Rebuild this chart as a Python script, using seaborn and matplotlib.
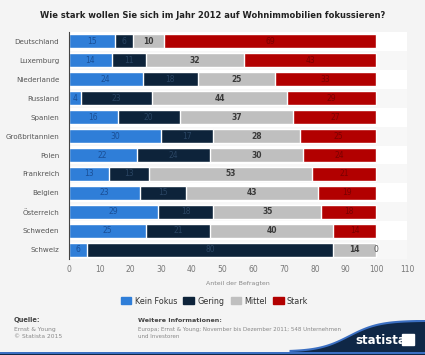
# -*- coding: utf-8 -*-
"""
Stacked barchart: focus on residential property 2012
"""

# import libraries
import seaborn as sns
import matplotlib.pyplot as plt
import matplotlib.patches as mpatches
import numpy as np
import pandas as pd

# data
countries = ['Deutschland', 'Luxemburg', 'Niederlande', 'Russland', 'Spanien',
             'Großbritannien', 'Polen', 'Frankreich', 'Belgien', 'Österreich',
             'Schweden', 'Schweiz']
kein_fokus = [15, 14, 24, 4, 16, 30, 22, 13, 23, 29, 25, 6]
gering = [6, 11, 18, 23, 20, 17, 24, 13, 15, 18, 21, 80]
mittel = [10, 32, 25, 44, 37, 28, 30, 53, 43, 35, 40, 14]
stark = [69, 43, 33, 29, 27, 25, 24, 21, 19, 18, 14, 0]
series = ['Kein Fokus', 'Gering', 'Mittel', 'Stark']
colors = ['#2f7ed8', '#0d233a', '#bfbfbf', '#b20000']
label_colors = ['#1a4f96', '#2a4563', '#3a3a3a', '#7a0000']

# set theme
sns.set_theme(style="white")
plt.rcParams['font.family'] = ['DejaVu Sans']

df = pd.DataFrame({'Land': countries, 'Kein Fokus': kein_fokus,
                   'Gering': gering, 'Mittel': mittel, 'Stark': stark})
cum = df[series].cumsum(axis=1)

fig = plt.figure(figsize=(4.25, 3.55), dpi=100, facecolor='#f4f4f4')
ax = fig.add_axes([0.162, 0.27, 0.796, 0.64])
ax.set_facecolor('white')

# alternating row bands
for i in range(len(countries)):
    if i % 2 == 1:
        ax.axhspan(i - 0.5, i + 0.5, color='#f7f7f7', zorder=0, lw=0)

# stacked bars via cumulative overlap (last series first)
for name, col in zip(series[::-1], colors[::-1]):
    sns.barplot(x=cum[name], y=df['Land'], color=col, orient='h',
                width=0.74, ax=ax, zorder=2, saturation=1)

# value labels
for j, name in enumerate(series):
    starts = cum[name] - df[name]
    for i, v in enumerate(df[name]):
        xpos = starts[i] + v / 2
        col = label_colors[j]
        if v == 0:
            xpos = starts[i]
            col = '#555555'
        weight = 'bold' if name == 'Mittel' else 'normal'
        ax.text(xpos, i, str(v), ha='center', va='center', fontsize=5.5,
                color=col, fontweight=weight, zorder=3)

ax.set_xlim(0, 110)
ax.set_ylim(11.5, -0.5)
ax.set_xticks(range(0, 111, 10))
ax.tick_params(axis='x', labelsize=5.5, colors='#777777', length=0, pad=4)
ax.tick_params(axis='y', labelsize=5.1, colors='#555555', length=0, pad=7)
ax.set_ylabel('')
ax.set_xlabel('Anteil der Befragten', fontsize=4.5, color='#888888', labelpad=5)
for s in ['top', 'right', 'bottom']:
    ax.spines[s].set_visible(False)
ax.spines['left'].set_color('#444444')
ax.spines['left'].set_linewidth(0.8)
ax.axvline(110, color='#eeeeee', lw=0.6, zorder=1)

# title
fig.text(0.5, 0.957, 'Wie stark wollen Sie sich im Jahr 2012 auf Wohnimmobilien fokussieren?',
         ha='center', va='center', fontsize=6.0, fontweight='bold', color='#222222')

# legend
handles = [mpatches.Patch(color=c, label=s) for s, c in zip(series, colors)]
fig.legend(handles=handles, loc='center', bbox_to_anchor=(0.505, 0.152), ncol=4,
           frameon=False, fontsize=5.8, handlelength=1.3, handleheight=1.0,
           handletextpad=0.4, columnspacing=0.8, labelcolor='#333333')

# footer
fig.text(0.033, 0.093, 'Quelle:', fontsize=4.8, fontweight='bold', color='#444444')
fig.text(0.033, 0.062, 'Ernst & Young\n© Statista 2015', fontsize=4.3,
         color='#888888', va='center', linespacing=1.4)
fig.text(0.325, 0.093, 'Weitere Informationen:', fontsize=4.6, fontweight='bold',
         color='#444444')
fig.text(0.325, 0.062, 'Europa; Ernst & Young; November bis Dezember 2011; 548 Unternehmen\nund Investoren',
         fontsize=4.0, color='#888888', va='center', linespacing=1.4)

# statista wave
wave = fig.add_axes([0, 0, 1, 0.1], zorder=-1)
wave.set_xlim(0, 1)
wave.set_ylim(0, 1)
wave.axis('off')
xs = np.linspace(0.68, 1.0, 80)
top = 0.08 + 0.87 * (1 / (1 + np.exp(-(xs - 0.82) * 28)))
wave.fill_between(xs, 0, top + 0.06, color='#3b6fc2', lw=0)
wave.fill_between(xs, 0, top, color='#0f2746', lw=0)
wave.fill_between([0, 1], 0, 0.04, color='#0f2746', lw=0)
wave.fill_between([0, 1], 0.04, 0.09, color='#3b6fc2', lw=0)
fig.text(0.895, 0.042, 'statista', fontsize=8.5, fontweight='bold', color='white',
         ha='center', va='center')
fig.patches.append(mpatches.Rectangle((0.945, 0.028), 0.03, 0.03, color='white',
                                      transform=fig.transFigure, zorder=5))

plt.savefig('out.png', dpi=100, facecolor=fig.get_facecolor())
